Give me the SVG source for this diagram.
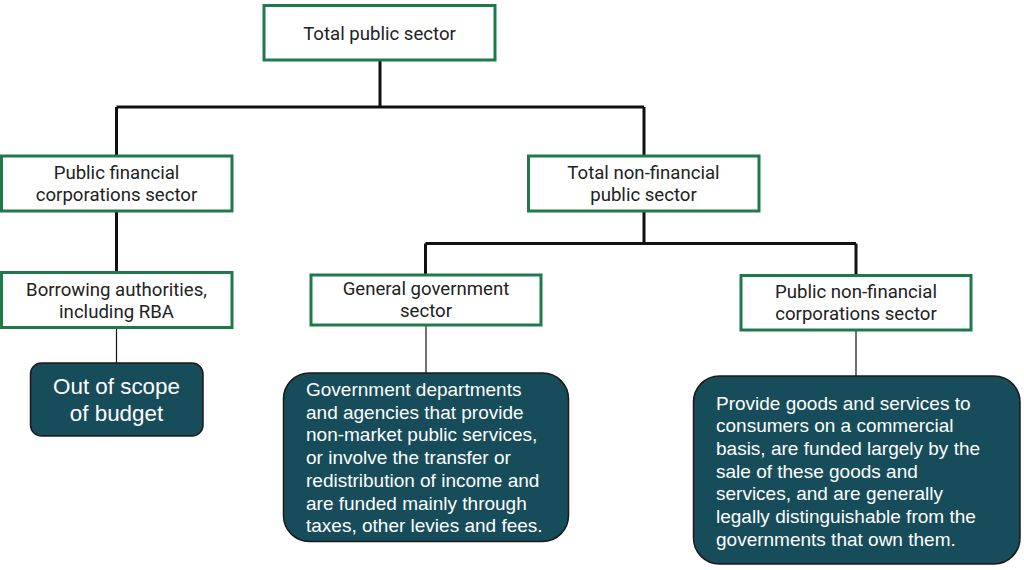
<svg xmlns="http://www.w3.org/2000/svg" width="1024" height="570" viewBox="0 0 1024 570">
<style>
.box{fill:#ffffff;stroke:#1f7a4a;stroke-width:3}
.dark{fill:#174d5a;stroke:#1a1a1a;stroke-width:1.5}
.t{font-family:Roboto,"Liberation Sans",sans-serif;font-size:18.6px;fill:#222222;text-anchor:middle}
.w{font-family:"Liberation Sans",Arial,sans-serif;font-size:19px;fill:#ffffff}
.wb{font-family:"Liberation Sans",Arial,sans-serif;font-size:22.4px;fill:#ffffff;text-anchor:middle}
.thick{stroke:#111111;stroke-width:3;fill:none}
.thin{stroke:#111111;stroke-width:1.2;fill:none}
</style>
<rect width="1024" height="570" fill="#ffffff"/>
<g id="connectors">
<path class="thick" d="M380,60 V107 M116.5,107 H644 M116.5,107 V156 M644,107 V156"/>
<path class="thick" d="M116.5,211 V272"/>
<path class="thick" d="M644,211 V243.5 M425.5,243.5 H856 M425.5,243.5 V275 M856,243.5 V275"/>
<path class="thin" d="M116.5,328 V363 M426,325 V373 M856,330 V376"/>
</g>
<g id="total-public-sector">
<rect class="box" x="264" y="5.5" width="231" height="54.5"/>
<text class="t" x="379.5" y="39.5">Total public sector</text>
</g>
<g id="public-financial-corporations">
<rect class="box" x="1.5" y="156" width="230.5" height="55"/>
<text class="t" x="116.5" y="179">Public financial</text>
<text class="t" x="116.5" y="201">corporations sector</text>
</g>
<g id="total-non-financial">
<rect class="box" x="528.5" y="156" width="230.5" height="55"/>
<text class="t" x="643.5" y="179">Total non-financial</text>
<text class="t" x="643.5" y="201">public sector</text>
</g>
<g id="borrowing-authorities">
<rect class="box" x="1.5" y="272.5" width="230.5" height="55"/>
<text class="t" x="116.5" y="295.5">Borrowing authorities,</text>
<text class="t" x="116.5" y="317.5">including RBA</text>
</g>
<g id="general-government">
<rect class="box" x="311" y="275" width="230" height="50"/>
<text class="t" x="426" y="295">General government</text>
<text class="t" x="426" y="317">sector</text>
</g>
<g id="public-non-financial-corporations">
<rect class="box" x="741" y="275.5" width="230" height="54.5"/>
<text class="t" x="856" y="297.5">Public non-financial</text>
<text class="t" x="856" y="319.5">corporations sector</text>
</g>
<g id="out-of-scope">
<rect class="dark" x="30.5" y="363" width="172.5" height="73" rx="11"/>
<text class="wb" x="116.5" y="394">Out of scope</text>
<text class="wb" x="116.5" y="420.5">of budget</text>
</g>
<g id="general-government-description">
<rect class="dark" x="283.5" y="373" width="285" height="168.5" rx="26"/>
<text class="w" x="306" y="396">Government departments</text>
<text class="w" x="306" y="418.7">and agencies that provide</text>
<text class="w" x="306" y="441.4">non-market public services,</text>
<text class="w" x="306" y="464.1">or involve the transfer or</text>
<text class="w" x="306" y="486.8">redistribution of income and</text>
<text class="w" x="306" y="509.5">are funded mainly through</text>
<text class="w" x="306" y="532.2">taxes, other levies and fees.</text>
</g>
<g id="public-non-financial-description">
<rect class="dark" x="693.5" y="376" width="326.5" height="188" rx="26"/>
<text class="w" x="716" y="409.5">Provide goods and services to</text>
<text class="w" x="716" y="432.2">consumers on a commercial</text>
<text class="w" x="716" y="454.9">basis, are funded largely by the</text>
<text class="w" x="716" y="477.6">sale of these goods and</text>
<text class="w" x="716" y="500.3">services, and are generally</text>
<text class="w" x="716" y="523">legally distinguishable from the</text>
<text class="w" x="716" y="545.7">governments that own them.</text>
</g>
</svg>
